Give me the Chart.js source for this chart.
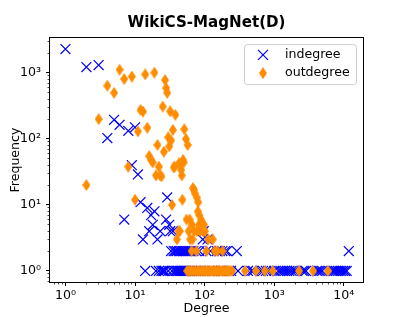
<!DOCTYPE html>
<html>
<head>
<title>WikiCS-MagNet(D)</title>
<script src="https://cdn.jsdelivr.net/npm/chart.js"></script>
<style>
  body { margin: 0; background: #ffffff; }
  #wrap { width: 403px; height: 317px; }
</style>
</head>
<body>
<div id="wrap"><canvas id="chart" width="403" height="317"></canvas></div>
<script>
const chartTitle = 'WikiCS-MagNet(D)';
const seriesNames = ['indegree', 'outdegree'];

// indegree distribution (degree -> number of nodes)
const inDegree = [
  1, 2, 3, 4, 5, 6, 7, 8, 9, 10,
  11, 12, 13, 14, 15, 16, 17, 18, 19, 20,
  21, 22, 23, 24, 25, 26, 27, 28, 29, 30,
  31, 32, 33, 34, 35, 36, 37, 38, 39, 40,
  41, 42, 43, 44, 45, 46, 47, 48, 49, 50,
  51, 52, 53, 54, 55, 57, 59, 61, 63, 66,
  69, 72, 76, 80, 84, 88, 94, 97, 101, 106,
  110, 115, 121, 128, 135, 150, 158, 165, 172, 180,
  188, 198, 210, 222, 240, 290, 302, 420, 470, 500,
  640, 690, 760, 820, 1010, 1150, 1230, 1320, 1420, 1530,
  1650, 1780, 1920, 2040, 2550, 2700, 2860, 4100, 4350, 4600,
  4900, 6900, 7300, 7700, 8200, 8700, 9200, 9800, 10400, 11000,
  11800
];
const inFreq = [
  2300, 1230, 1320, 103, 195, 164, 6, 133, 40, 150,
  29, 11, 3, 1, 9, 4, 7, 5, 8, 1,
  3, 1, 4, 1, 1, 1, 1, 6, 13, 1,
  5, 4, 2, 1, 4, 2, 1, 2, 1, 2,
  1, 1, 2, 1, 1, 2, 1, 1, 2, 1,
  1, 2, 1, 1, 2, 1, 2, 1, 2, 1,
  2, 1, 2, 1, 2, 1, 3, 4, 1, 2,
  3, 1, 2, 1, 1, 2, 1, 2, 1, 2,
  1, 2, 2, 1, 1, 2, 1, 1, 1, 1,
  1, 1, 1, 1, 1, 1, 1, 1, 1, 1,
  1, 1, 1, 1, 1, 1, 1, 1, 1, 1,
  1, 1, 1, 1, 1, 1, 1, 1, 1, 1,
  2
];

// outdegree distribution
const outDegree = [
  2, 3, 4, 5, 6, 7, 8, 9, 10, 11,
  12, 13, 14, 15, 16, 17, 18, 19, 20, 21,
  22, 23, 24, 25, 26, 27, 28, 29, 30, 31,
  32, 33, 34, 35, 36, 37, 38, 40, 42, 43,
  44, 46, 47, 48, 49, 50, 51, 54, 55, 56,
  57, 59, 60, 61, 62, 64, 65, 66, 67, 68,
  69, 70, 71, 72, 74, 76, 77, 78, 79, 80,
  81, 83, 84, 85, 86, 89, 91, 95, 97, 98,
  101, 104, 106, 111, 113, 119, 127, 131, 136, 139,
  145, 153, 155, 166, 178, 181, 190, 203, 217, 232,
  248, 380, 545, 730, 950, 2270, 3600, 5900
];
const outFreq = [
  20, 200, 640, 500, 1120, 810, 38, 880, 12, 130,
  275, 260, 950, 148, 55, 48, 44, 1010, 28, 81,
  38, 28, 27, 310, 64, 780, 590, 500, 106, 77,
  262, 95, 10, 137, 37, 38, 232, 3, 4, 43,
  4, 34, 28, 12, 48, 44, 140, 100, 6, 1,
  81, 4, 1, 6, 3, 1, 2, 5, 3, 18,
  1, 17, 4, 15, 1, 2, 13, 4, 1, 8,
  11, 5, 7, 1, 4, 6, 1, 4, 1, 5,
  4, 1, 2, 1, 3, 1, 1, 3, 1, 2,
  1, 2, 1, 1, 1, 2, 1, 1, 1, 1,
  1, 1, 1, 1, 1, 1, 1, 1
];

const xTickValues = [1, 10, 100, 1000, 10000];
const xTickLabels = ['10⁰', '10¹', '10²', '10³', '10⁴'];
const yTickValues = [1, 10, 100, 1000];
const yTickLabels = ['10⁰', '10¹', '10²', '10³'];

const xMin = 0.626, xMax = 18880;
const yMin = 0.679, yMax = 3373;

const FONT = 'DejaVu Sans';
Chart.defaults.font.family = FONT;
Chart.defaults.color = '#000';

function logTicks(min, max) {
  const out = [];
  for (let e = Math.floor(Math.log10(min)); e <= Math.ceil(Math.log10(max)); e++) {
    for (let k = 1; k < 10; k++) {
      const v = k * Math.pow(10, e);
      if (v >= min && v <= max) out.push({ value: v });
    }
  }
  return out;
}

function isMajor(v) {
  return Math.abs(Math.log10(v) - Math.round(Math.log10(v))) < 1e-9;
}

function makeDiamond(w, h, color) {
  const c = document.createElement('canvas');
  c.width = w; c.height = h;
  const g = c.getContext('2d');
  g.fillStyle = color;
  g.beginPath();
  g.moveTo(w / 2, 0);
  g.lineTo(w, h / 2);
  g.lineTo(w / 2, h);
  g.lineTo(0, h / 2);
  g.closePath();
  g.fill();
  return c;
}
const diamond = makeDiamond(8, 12, '#ff8c00');

// frame around the axes plus the legend box inside the plot
const framePlugin = {
  id: 'frame',
  afterDraw(chart) {
    const { ctx, chartArea: a } = chart;
    ctx.save();
    ctx.strokeStyle = '#000';
    ctx.lineWidth = 1;
    const l = Math.round(a.left) - 0.5, t = Math.round(a.top) - 0.5;
    ctx.strokeRect(l, t, Math.round(a.right) - Math.round(a.left) + 1, Math.round(a.bottom) - Math.round(a.top) + 1);

    // legend
    const bx = a.right - 118.5, by = a.top + 6.5, bw = 112, bh = 40, r = 3;
    ctx.beginPath();
    ctx.moveTo(bx + r, by);
    ctx.lineTo(bx + bw - r, by);
    ctx.arcTo(bx + bw, by, bx + bw, by + r, r);
    ctx.lineTo(bx + bw, by + bh - r);
    ctx.arcTo(bx + bw, by + bh, bx + bw - r, by + bh, r);
    ctx.lineTo(bx + r, by + bh);
    ctx.arcTo(bx, by + bh, bx, by + bh - r, r);
    ctx.lineTo(bx, by + r);
    ctx.arcTo(bx, by, bx + r, by, r);
    ctx.closePath();
    ctx.fillStyle = 'rgba(255,255,255,0.8)';
    ctx.fill();
    ctx.strokeStyle = '#cccccc';
    ctx.stroke();

    const mx = a.right - 100, tx = a.right - 78;
    const y1 = a.top + 16.7, y2 = a.top + 35;
    ctx.strokeStyle = 'blue';
    ctx.lineWidth = 1.2;
    ctx.beginPath();
    ctx.moveTo(mx - 5, y1 - 5); ctx.lineTo(mx + 5, y1 + 5);
    ctx.moveTo(mx - 5, y1 + 5); ctx.lineTo(mx + 5, y1 - 5);
    ctx.stroke();
    ctx.drawImage(diamond, mx - diamond.width / 2, y2 - diamond.height / 2);

    ctx.fillStyle = '#000';
    ctx.font = '12.6px "' + FONT + '"';
    ctx.textBaseline = 'middle';
    ctx.textAlign = 'left';
    ctx.fillText(seriesNames[0], tx, y1);
    ctx.fillText(seriesNames[1], tx, y2);
    ctx.restore();
  }
};

const inPoints = inDegree.map((d, i) => ({ x: d, y: inFreq[i] }));
const outPoints = outDegree.map((d, i) => ({ x: d, y: outFreq[i] }));

new Chart(document.getElementById('chart').getContext('2d'), {
  type: 'scatter',
  data: {
    datasets: [
      {
        label: seriesNames[0],
        data: inPoints,
        pointStyle: 'crossRot',
        pointRadius: 7,
        pointHoverRadius: 7,
        borderColor: 'blue',
        backgroundColor: 'blue',
        borderWidth: 1.2,
        order: 1
      },
      {
        label: seriesNames[1],
        data: outPoints,
        pointStyle: diamond,
        pointRadius: 6,
        pointHoverRadius: 6,
        borderColor: '#ff8c00',
        backgroundColor: '#ff8c00',
        order: 0
      }
    ]
  },
  options: {
    responsive: false,
    devicePixelRatio: 1,
    animation: false,
    layout: { padding: { left: 0, right: 40, top: 0, bottom: 0 } },
    plugins: {
      legend: { display: false },
      tooltip: { enabled: false },
      title: {
        display: true,
        text: chartTitle,
        fullSize: false,
        color: '#000',
        font: { family: FONT, size: 15.1, weight: 'bold' },
        padding: { top: 14, bottom: 6 }
      }
    },
    scales: {
      x: {
        type: 'logarithmic',
        min: xMin,
        max: xMax,
        afterBuildTicks: s => { s.ticks = logTicks(xMin, xMax); },
        afterFit: s => { s.height = 35; },
        border: { display: false },
        grid: {
          drawOnChartArea: false,
          drawTicks: true,
          tickLength: 4,
          tickColor: '#000',
          tickWidth: c => isMajor(c.tick.value) ? 1 : 0.7,
          tickBorderDash: c => isMajor(c.tick.value) ? [] : [2.5, 10]
        },
        ticks: {
          autoSkip: false,
          maxRotation: 0,
          padding: 2,
          color: '#000',
          font: { family: FONT, size: 12.6 },
          callback: v => {
            const i = xTickValues.indexOf(v);
            return i >= 0 ? xTickLabels[i] : '';
          }
        },
        title: {
          display: true,
          text: 'Degree',
          color: '#000',
          font: { family: FONT, size: 12.6 },
          padding: { top: 0, bottom: 1 }
        }
      },
      y: {
        type: 'logarithmic',
        min: yMin,
        max: yMax,
        afterBuildTicks: s => { s.ticks = logTicks(yMin, yMax); },
        afterFit: s => { s.width = 50; },
        border: { display: false },
        grid: {
          drawOnChartArea: false,
          drawTicks: true,
          tickLength: 4,
          tickColor: '#000',
          tickWidth: c => isMajor(c.tick.value) ? 1 : 0.7,
          tickBorderDash: c => isMajor(c.tick.value) ? [] : [0, 1.5, 2.5, 10]
        },
        ticks: {
          autoSkip: false,
          padding: 5,
          color: '#000',
          font: { family: FONT, size: 12.6 },
          callback: v => {
            const i = yTickValues.indexOf(v);
            return i >= 0 ? yTickLabels[i] : '';
          }
        },
        title: {
          display: true,
          text: 'Frequency',
          color: '#000',
          font: { family: FONT, size: 12.6 },
          padding: { top: 8, bottom: 0 }
        }
      }
    }
  },
  plugins: [framePlugin]
});
</script>
</body>
</html>
